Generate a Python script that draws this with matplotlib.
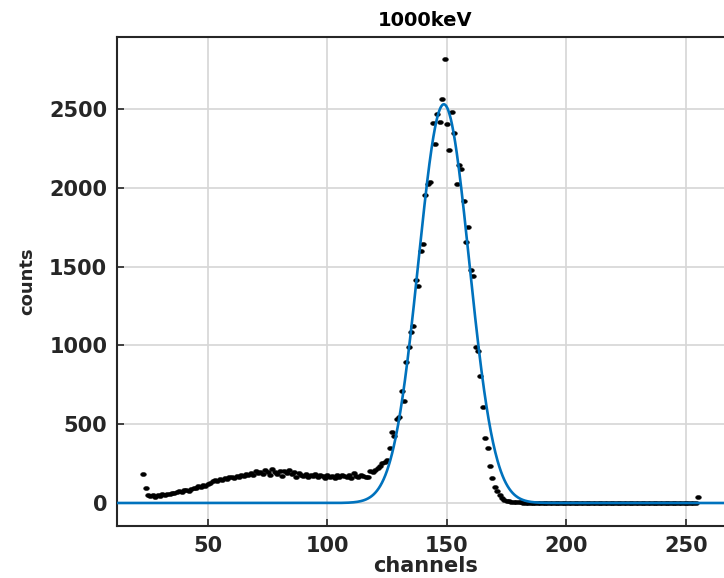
import numpy as np
import matplotlib
matplotlib.use("Agg")
import matplotlib.pyplot as plt
from matplotlib.path import Path

# ---- data ----
channels = list(range(23, 256))

counts_low = [185, 95, 52, 45, 48, 38, 50, 42, 55, 48,          # 23-32
              60, 58, 65, 62, 70, 75, 68, 80, 85, 78,           # 33-42
              90, 98, 92, 105, 100, 112, 108, 118, 125, 138,    # 43-52
              145, 140, 152, 148, 158, 150, 162, 165, 158, 172, # 53-62
              168, 178, 170, 185, 180, 192, 176, 205, 188, 195, # 63-72
              182, 210, 198, 178, 215, 195, 185, 205, 172, 200, # 73-82
              190, 210, 182, 195, 165, 192, 178, 170, 185, 168, # 83-92
              178, 172, 182, 165, 175, 170, 160, 178, 165, 172, # 93-102
              160, 175, 168, 180, 170, 162, 175, 158, 190, 172, # 103-112
              165, 180, 170, 162, 168, 200, 195, 210, 225]      # 113-121

counts_peak = [235, 252, 262, 273, 347, 449, 427, 535, 544, 711,          # 122-131
               649, 895, 992, 1083, 1125, 1415, 1375, 1597, 1643, 1954,   # 132-141
               2022, 2039, 2413, 2280, 2468, 2417, 2561, 2817, 2403, 2240,# 142-151
               2483, 2346, 2022, 2143, 2121, 1916, 1658, 1749, 1478, 1440,# 152-161
               992, 966, 806, 611, 414, 347, 235, 157, 100, 76,           # 162-171
               51, 30, 20, 15, 10, 8]                                     # 172-177

counts_tail = [6, 5, 5, 4, 3, 3, 2, 2, 2, 1,
               1, 1, 1, 0, 1, 0, 0, 1, 0, 0,
               0, 1, 0, 0, 0, 1, 0, 0, 0, 0,
               1, 0, 0, 0, 0, 1, 0, 0, 0, 0,
               0, 0, 1, 0, 0, 0, 0, 1, 0, 0,
               0, 0, 0, 1, 0, 0, 0, 0, 0, 1,
               0, 0, 0, 0, 1, 0, 0, 0, 0, 0,
               0, 1, 0, 0, 0, 0, 1,
               35]

counts = counts_low + counts_peak + counts_tail

# Gaussian fit parameters (amplitude, centre, sigma)
fit_amp = 2530.0
fit_mu = 148.7
fit_sigma = 10.6

xticks = [50, 100, 150, 200, 250]
yticks = [0, 500, 1000, 1500, 2000, 2500]

# slightly wide elliptical dot marker (the reference is horizontally stretched)
_t = np.linspace(0, 2 * np.pi, 25)
dot_marker = Path(np.column_stack([np.cos(_t), 0.72 * np.sin(_t)]), closed=True)

# ---- figure ----
fig = plt.figure(figsize=(7.24, 5.78), dpi=100)
ax = fig.add_axes([117 / 724, 52 / 578, 0.852, 489 / 578])

fit_x = np.linspace(0, 280, 1200)
fit_y = fit_amp * np.exp(-((fit_x - fit_mu) ** 2) / (2 * fit_sigma ** 2))

ax.plot(channels, counts, linestyle="none", marker=dot_marker, markersize=4.2,
        markerfacecolor="black", markeredgecolor="black", markeredgewidth=0.3,
        zorder=3)
ax.plot(fit_x, fit_y, color="#0072BD", linewidth=1.9, zorder=4)

ax.set_xlim(12, 270)
ax.set_ylim(-146, 2957)
ax.set_xticks(xticks)
ax.set_yticks(yticks)

ax.grid(True, color="#d6d6d6", linewidth=1.2)
ax.set_axisbelow(True)

for side in ["left", "bottom", "top", "right"]:
    ax.spines[side].set_color("#262626")
    ax.spines[side].set_linewidth(1.5)

ax.tick_params(direction="in", length=5, width=1.2, colors="#262626",
               labelsize=15, top=False, right=False, pad=7)
for lbl in ax.get_xticklabels() + ax.get_yticklabels():
    lbl.set_fontweight("bold")

ax.set_title("1000keV", fontsize=14, fontweight="bold", color="#000000", pad=8)
ax.set_xlabel("channels", fontsize=15, fontweight="bold", color="#262626", labelpad=0)
ax.set_ylabel("counts", fontsize=13, fontweight="bold", color="#262626", labelpad=9)

fig.savefig("out.png", dpi=100)
